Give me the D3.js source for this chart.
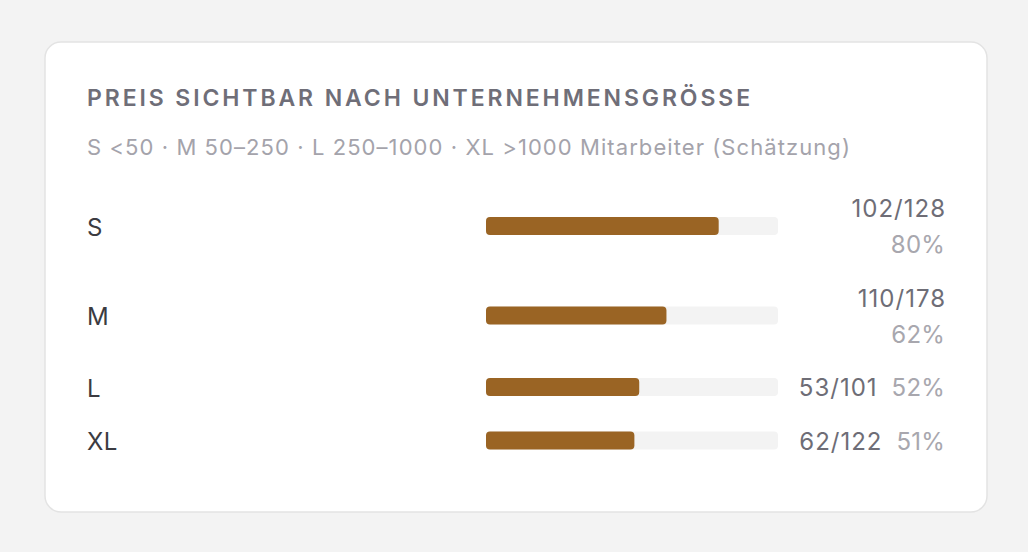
<!DOCTYPE html>
<html>
<head>
<meta charset="utf-8">
<script src="https://cdn.jsdelivr.net/npm/d3@7"></script>
<style>
  html, body { margin: 0; padding: 0; background: #f3f3f3; }
  svg { display: block; font-family: Inter, "Noto Sans", sans-serif; }
</style>
</head>
<body>
<svg id="chart"></svg>
<script>
"use strict";

const sizes = ["S", "M", "L", "XL"];
const visible = [102, 110, 53, 62];
const totals = [128, 178, 101, 122];

const title = "PREIS SICHTBAR NACH UNTERNEHMENSGRÖSSE";
const subtitle = "S <50 · M 50–250 · L 250–1000 · XL >1000 Mitarbeiter (Schätzung)";

const width = 1028;
const height = 552;

const card = { x: 45, y: 42, w: 942, h: 470 };
const left = 87;
const barX = 486;
const barW = 292;
const barH = 18;
const valueRight = 945;
const valueLeft = 794;
const lineH = 36;
const rowGap = 17.5;
const rowsTop = 190;

const svg = d3.select("#chart").attr("width", width).attr("height", height);

// stretch a text line to a given width with letter-spacing
const fitWidth = (sel, target) => {
  const n = sel.text().length;
  const w = sel.node().getComputedTextLength();
  sel.attr("letter-spacing", `${(target - w) / n}px`);
};

const drawCard = () => {
  svg
    .append("rect")
    .attr("x", card.x)
    .attr("y", card.y)
    .attr("width", card.w)
    .attr("height", card.h)
    .attr("rx", 16)
    .attr("fill", "#ffffff")
    .attr("stroke", "#e3e3e3")
    .attr("stroke-width", 1.5);

  const t = svg
    .append("text")
    .attr("x", left)
    .attr("y", 106)
    .attr("fill", "#6f6e78")
    .attr("font-size", 23)
    .attr("font-weight", 600)
    .text(title);
  fitWidth(t, 666);

  const s = svg
    .append("text")
    .attr("x", left)
    .attr("y", 155)
    .attr("fill", "#a4a3ab")
    .attr("font-size", 22)
    .text(subtitle);
  fitWidth(s, 764);
};

const drawRows = () => {
  const data = sizes.map((s, i) => ({
    size: s,
    count: visible[i],
    total: totals[i],
    share: visible[i] / totals[i],
  }));

  const xScale = d3.scaleLinear().domain([0, 1]).range([0, barW]);

  const countText = (g) =>
    g.append("text").attr("font-size", 24).attr("letter-spacing", "1px");
  const pctText = (g) =>
    g.append("text").attr("font-size", 24).attr("letter-spacing", "0.2px");

  // measure the value text to decide whether it wraps onto two lines
  data.forEach((d) => {
    const c = countText(svg).text(`${d.count}/${d.total}`);
    const p = pctText(svg).text(`${Math.round(d.share * 100)}%`);
    const cw = c.node().getComputedTextLength();
    const pw = p.node().getComputedTextLength();
    c.remove();
    p.remove();
    d.wrap = cw + 15 + pw > valueRight - valueLeft;
  });

  let y = rowsTop;
  data.forEach((d) => {
    const h = d.wrap ? lineH * 2 : lineH;
    d.cy = y + h / 2;
    d.top = y;
    y += h + rowGap;
  });

  const rows = svg
    .selectAll("g.row")
    .data(data)
    .enter()
    .append("g")
    .attr("class", "row");

  rows
    .append("text")
    .attr("x", left)
    .attr("y", (d) => d.cy + 9.5)
    .attr("fill", "#3b3b41")
    .attr("font-size", 24)
    .attr("letter-spacing", "0.5px")
    .text((d) => d.size);

  rows
    .append("rect")
    .attr("x", barX)
    .attr("y", (d) => d.cy - barH / 2)
    .attr("width", xScale(1))
    .attr("height", barH)
    .attr("rx", 4)
    .attr("fill", "#f3f3f3");

  rows
    .append("rect")
    .attr("x", barX)
    .attr("y", (d) => d.cy - barH / 2)
    .attr("width", (d) => xScale(d.share))
    .attr("height", barH)
    .attr("rx", 4)
    .attr("fill", "#9a6424");

  rows.each(function (d) {
    const g = d3.select(this);
    const pct = pctText(g)
      .attr("text-anchor", "end")
      .attr("x", valueRight)
      .attr("fill", "#a8a7ae")
      .text(`${Math.round(d.share * 100)}%`);
    const cnt = countText(g)
      .attr("text-anchor", "end")
      .attr("fill", "#6e6d76")
      .text(`${d.count}/${d.total}`);
    if (d.wrap) {
      cnt.attr("x", valueRight + 1).attr("y", d.top + 27);
      pct.attr("y", d.top + lineH + 27);
    } else {
      const pw = pct.node().getComputedTextLength();
      cnt.attr("x", valueRight - pw - 14).attr("y", d.top + 27);
      pct.attr("y", d.top + 27);
    }
  });
};

drawCard();
drawRows();
</script>
</body>
</html>
